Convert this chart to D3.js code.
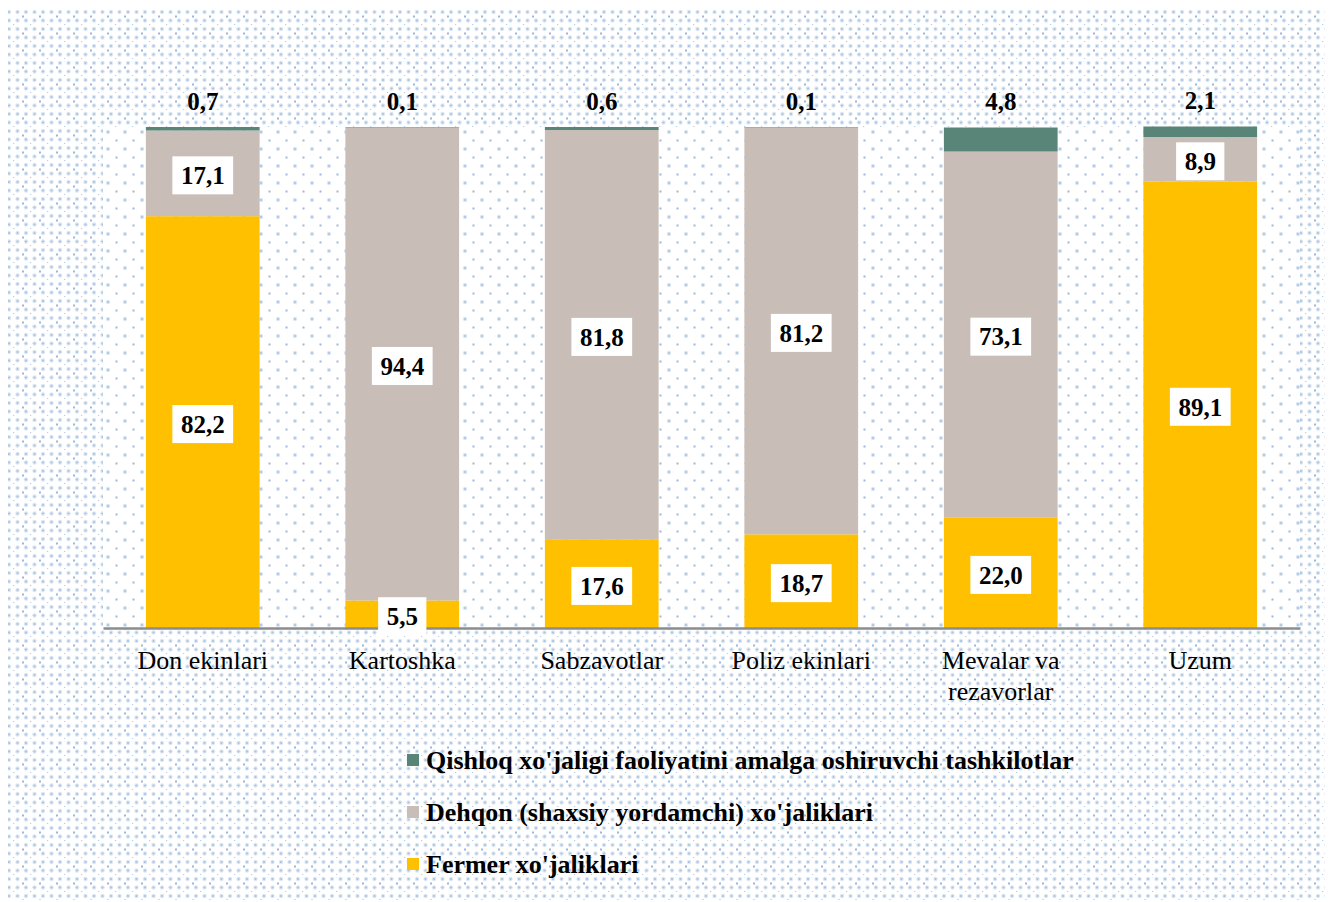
<!DOCTYPE html>
<html>
<head>
<meta charset="utf-8">
<script src="https://cdn.jsdelivr.net/npm/d3@7"></script>
<style>
  body { margin: 0; background: #fff; }
  svg { display: block; }
</style>
</head>
<body>
<svg id="chart"></svg>
<script>
var screen = {width: 1333, height: 902}
var margin = {top: 127, right: 33, bottom: 274, left: 103}

// data
var categories = ["Don ekinlari", "Kartoshka", "Sabzavotlar", "Poliz ekinlari", "Mevalar va rezavorlar", "Uzum"]
var fermer = [82.2, 5.5, 17.6, 18.7, 22.0, 89.1]
var dehqon = [17.1, 94.4, 81.8, 81.2, 73.1, 8.9]
var tashkilot = [0.7, 0.1, 0.6, 0.1, 4.8, 2.1]
var seriesNames = ["Fermer xo'jaliklari", "Dehqon (shaxsiy yordamchi) xo'jaliklari", "Qishloq xo'jaligi faoliyatini amalga oshiruvchi tashkilotlar"]
var seriesColors = ["#ffc000", "#c9bdb8", "#588578"]

var fmt = function(v) { return v.toFixed(1).replace(".", ",") }

var svg = d3.select("#chart")
    .attr("width", screen.width)
    .attr("height", screen.height)

var width = screen.width - margin.left - margin.right
var height = screen.height - margin.top - margin.bottom

// background patterns
var defs = svg.append("defs")
var dense = defs.append("pattern").attr("id", "dense")
    .attr("patternUnits", "userSpaceOnUse").attr("width", 17).attr("height", 17)
    .attr("x", 5).attr("y", 8)
var halo = function(p, x, y) {
    p.append("circle").attr("cx", x).attr("cy", y).attr("r", 2.2).attr("fill", "#dde7f2")
    p.append("circle").attr("cx", x).attr("cy", y).attr("r", 1.1).attr("fill", "#a9c4e1")
}
halo(dense, 4, 4); halo(dense, 12.5, 4); halo(dense, 4, 12.5); halo(dense, 12.5, 12.5)
dense.append("rect").attr("x", 0).attr("y", 7.5).attr("width", 2).attr("height", 2).attr("fill", "#9ab8db")
dense.append("rect").attr("x", 8).attr("y", 16).attr("width", 1.2).attr("height", 1.2).attr("fill", "#b5cbe3")

var sparse = defs.append("pattern").attr("id", "sparse")
    .attr("patternUnits", "userSpaceOnUse").attr("width", 17).attr("height", 17)
    .attr("x", margin.left).attr("y", margin.top)
halo(sparse, 5, 5)
sparse.append("rect").attr("x", 12.5).attr("y", 12.5).attr("width", 2).attr("height", 2).attr("fill", "#9ab8db")

svg.append("rect").attr("x", 8).attr("y", 8)
    .attr("width", screen.width - 16).attr("height", screen.height - 10)
    .attr("fill", "url(#dense)")
svg.append("rect").attr("x", margin.left).attr("y", margin.top)
    .attr("width", width).attr("height", height).attr("fill", "#fff")
svg.append("rect").attr("x", margin.left).attr("y", margin.top)
    .attr("width", width).attr("height", height).attr("fill", "url(#sparse)")

var xScale = d3.scaleBand().domain(categories).range([0, width]).paddingInner(0.43).paddingOuter(0.215)
var yScale = d3.scaleLinear().domain([0, 100]).range([height, 0])

var table = categories.map(function(c, i) {
    return {cat: c, fermer: fermer[i], dehqon: dehqon[i], tashkilot: tashkilot[i]}
})
var keys = ["fermer", "dehqon", "tashkilot"]
var stacked = d3.stack().keys(keys)(table)

var g = svg.append("g").attr("transform", "translate(" + margin.left + "," + margin.top + ")")

g.selectAll("g.series").data(stacked).enter().append("g")
    .attr("class", "series")
    .attr("fill", function(d, i) { return seriesColors[i] })
    .selectAll("rect").data(function(d) { return d }).enter().append("rect")
    .attr("x", function(d) { return xScale(d.data.cat) })
    .attr("width", xScale.bandwidth())
    .attr("y", function(d) { return yScale(d[1]) })
    .attr("height", function(d) { return yScale(d[0]) - yScale(d[1]) })

var labFont = "'Liberation Serif', 'Times New Roman', serif"

// axis
var xAxis = d3.axisBottom(xScale).tickSize(0).tickPadding(0)
var ax = g.append("g").attr("transform", "translate(0," + height + ")").call(xAxis)
ax.select(".domain").attr("stroke", "#8c8c8c").attr("stroke-width", 2.5)
ax.selectAll(".tick text").remove()
ax.selectAll(".tick").each(function(d) {
    var words = d === "Mevalar va rezavorlar" ? ["Mevalar va", "rezavorlar"] : [d]
    var t = d3.select(this).append("text")
        .attr("fill", "#000")
        .attr("text-anchor", "middle")
        .style("font-family", labFont)
        .style("font-size", "26px")
    words.forEach(function(w, k) {
        t.append("tspan").attr("x", 0).attr("y", 41 + k * 31).text(w)
    })
})

// labels inside (boxed)
stacked.slice(0, 2).forEach(function(s) {
    s.forEach(function(d) {
        var v = d[1] - d[0]
        var cx = xScale(d.data.cat) + xScale.bandwidth() / 2
        var cy = (yScale(d[0]) + yScale(d[1])) / 2 + 2
        var lg = g.append("g")
        var box = lg.append("rect").attr("fill", "#fff")
        var t = lg.append("text")
            .attr("x", cx).attr("y", cy).attr("dy", "0.35em")
            .attr("text-anchor", "middle")
            .style("font-family", labFont).style("font-size", "25px").style("font-weight", "bold")
            .text(fmt(v))
        var w = t.node().getComputedTextLength() + 17
        box.attr("x", cx - w / 2).attr("y", cy - 19).attr("width", w).attr("height", 38)
    })
})

// labels above top segment
g.selectAll("text.top").data(stacked[2]).enter().append("text")
    .attr("class", "top")
    .attr("x", function(d) { return xScale(d.data.cat) + xScale.bandwidth() / 2 })
    .attr("y", function(d) { return yScale(d[1]) - 26 })
    .attr("dy", "0.35em")
    .attr("text-anchor", "middle")
    .style("font-family", labFont).style("font-size", "25px").style("font-weight", "bold")
    .text(function(d) { return fmt(d[1] - d[0]) })

// legend
var legendOrder = [2, 1, 0]
var lg = svg.append("g").attr("transform", "translate(407,760)")
legendOrder.forEach(function(si, k) {
    var row = lg.append("g").attr("transform", "translate(0," + (k * 52) + ")")
    row.append("rect").attr("x", 0).attr("y", -6).attr("width", 12).attr("height", 12)
        .attr("fill", seriesColors[si])
    row.append("text").attr("x", 19).attr("y", 0).attr("dy", "0.35em")
        .style("font-family", labFont).style("font-size", "26px").style("font-weight", "bold")
        .text(seriesNames[si])
})
</script>
</body>
</html>
